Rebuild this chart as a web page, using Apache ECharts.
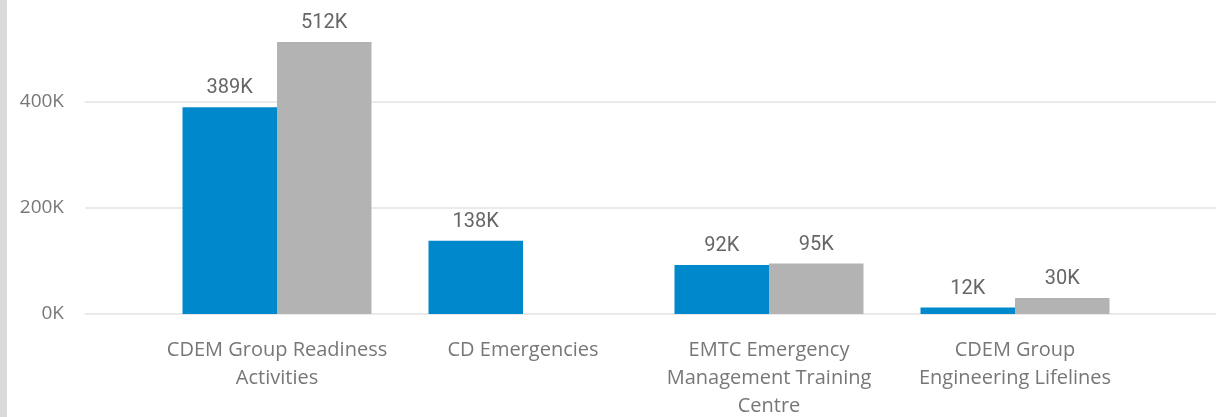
<!DOCTYPE html>
<html>
<head>
<meta charset="utf-8">
<script src="https://cdn.jsdelivr.net/npm/echarts@6/dist/echarts.min.js"></script>
<style>
html,body{margin:0;padding:0;background:#fff;}
#chart{width:1216px;height:417px;}
</style>
</head>
<body>
<div id="chart"></div>
<script>
const categories = [
  "CDEM Group Readiness\nActivities",
  "CD Emergencies",
  "EMTC Emergency\nManagement Training\nCentre",
  "CDEM Group\nEngineering Lifelines"
];
const seriesBlue = [389000, 138000, 92000, 12000];
const seriesGray = [512000, null, 95000, 30000];
const yTicks = [0, 200000, 400000];

const chart = echarts.init(document.getElementById('chart'), null, {renderer: 'canvas'});
const fmtK = v => Math.round(v / 1000) + 'K';
const yMax = 591000;

const labelStyle = {
  show: true,
  position: 'top',
  distance: 9,
  color: '#666666',
  fontFamily: 'Roboto',
  fontSize: 20,
  fontWeight: 'normal',
  formatter: p => fmtK(p.value)
};

chart.setOption({
  animation: false,
  backgroundColor: '#ffffff',
  graphic: [{
    type: 'rect',
    shape: {x: 0, y: 0, width: 7, height: 417},
    style: {fill: '#DADADA'},
    silent: true
  }],
  grid: [
    {left: 85, right: 0, top: 0, bottom: 103, containLabel: false, outerBoundsMode: 'none'},
    {left: 154, right: 78, top: 0, bottom: 103, containLabel: false, outerBoundsMode: 'none'}
  ],
  xAxis: [
    {gridIndex: 0, type: 'value', show: false, min: 0, max: 1},
    {
      gridIndex: 1, type: 'category', data: categories,
      axisLine: {show: false}, axisTick: {show: false},
      axisLabel: {
        interval: 0,
        margin: 22,
        color: '#777777',
        fontFamily: 'Open Sans',
        fontSize: 20,
        lineHeight: 28,
        align: 'center'
      }
    }
  ],
  yAxis: [
    {
      gridIndex: 0, type: 'value', min: 0, max: yMax, interval: 200000,
      axisLine: {show: false}, axisTick: {show: false},
      axisLabel: {
        margin: 21,
        color: '#777777',
        fontFamily: 'Open Sans',
        fontSize: 19,
        showMaxLabel: false,
        formatter: v => yTicks.includes(v) ? fmtK(v) : ''
      },
      splitLine: {show: true, showMaxLine: false, lineStyle: {color: '#EAEAEA', width: 2}}
    },
    {
      gridIndex: 1, type: 'value', min: 0, max: yMax, show: false,
      splitLine: {show: false}
    }
  ],
  series: [
    {
      type: 'bar', xAxisIndex: 1, yAxisIndex: 1,
      data: seriesBlue, barWidth: 94.5, barGap: '0%',
      itemStyle: {color: '#0088CC'},
      label: labelStyle
    },
    {
      type: 'bar', xAxisIndex: 1, yAxisIndex: 1,
      data: seriesGray, barWidth: 94.5, barGap: '0%',
      itemStyle: {color: '#B3B3B3'},
      label: labelStyle
    }
  ]
});
</script>
</body>
</html>
